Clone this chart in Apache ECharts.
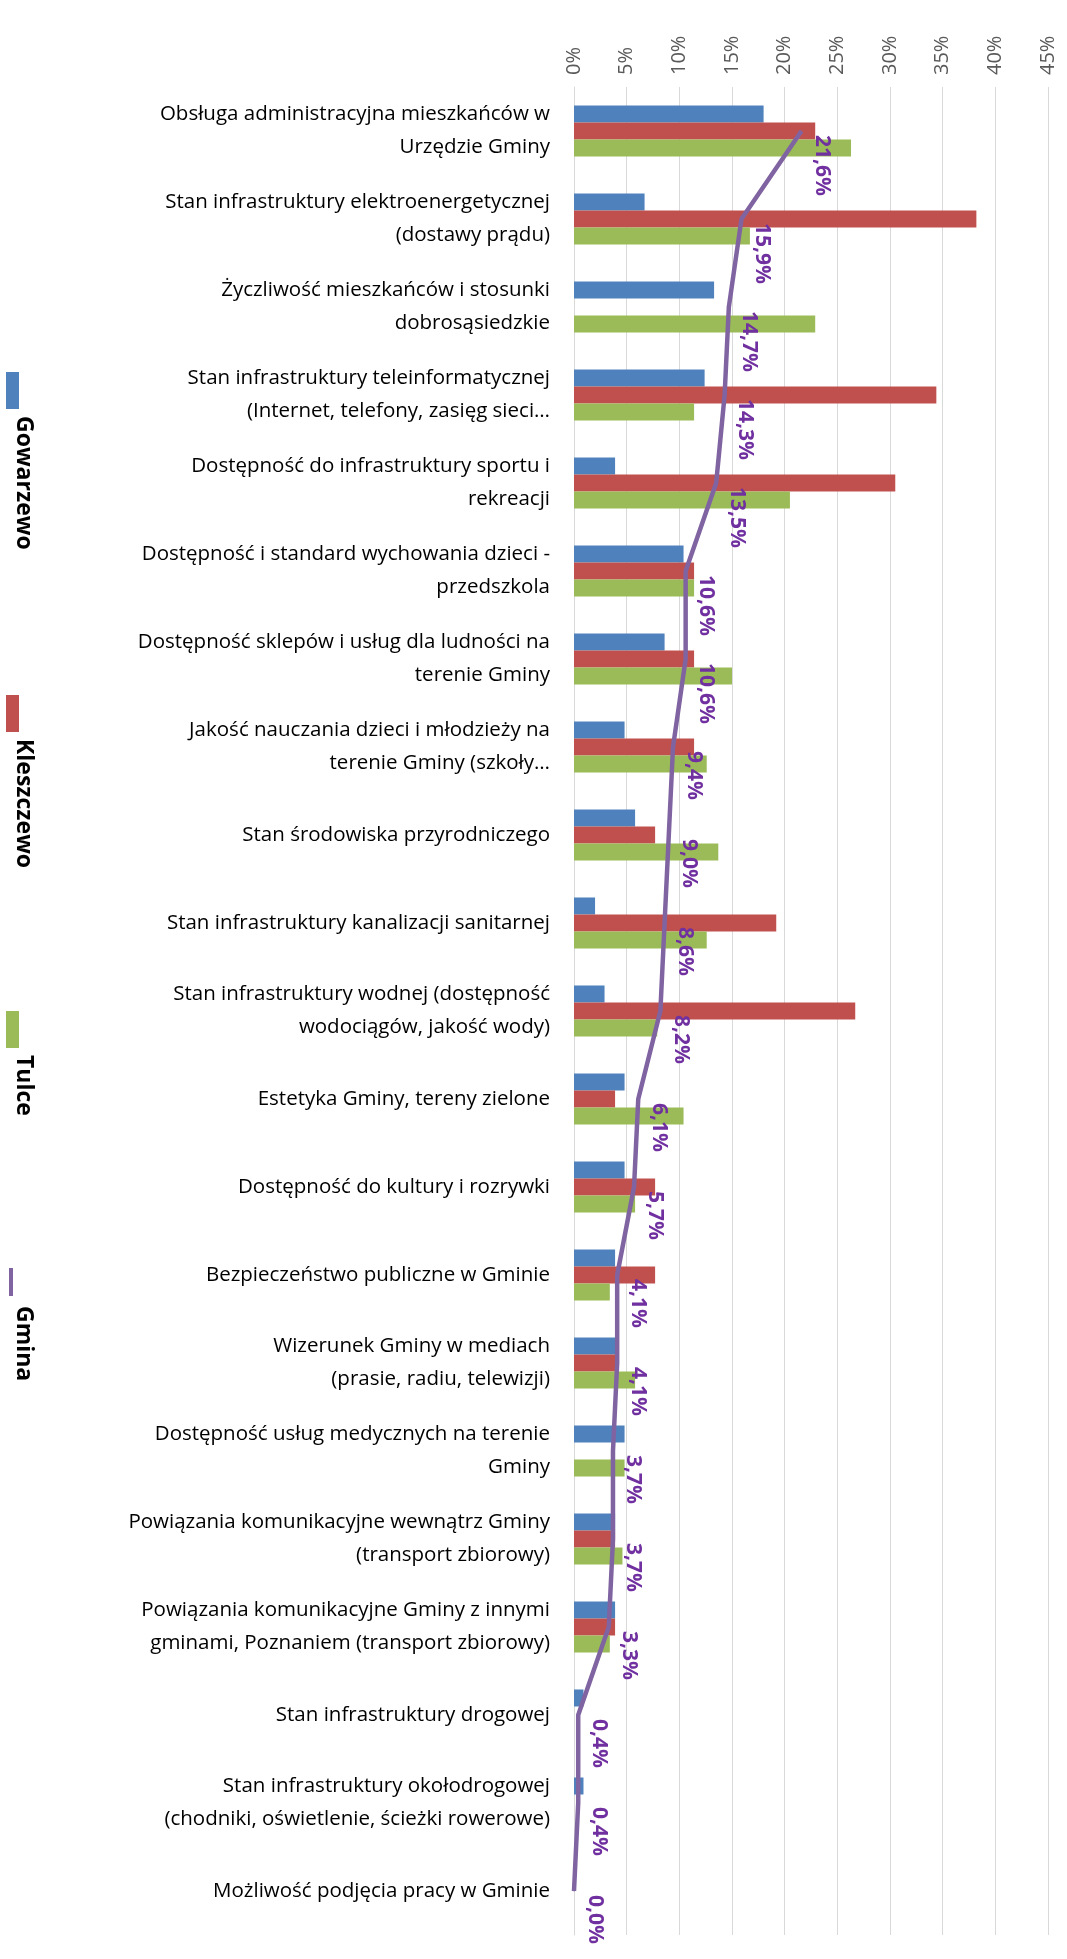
<!DOCTYPE html>
<html>
<head>
<meta charset="utf-8">
<script src="https://cdn.jsdelivr.net/npm/echarts@6/dist/echarts.min.js"></script>
<style>html,body{margin:0;padding:0;background:#fff}#chart{width:1067px;height:1959px}</style>
</head>
<body>
<div id="chart"></div>
<script>
var categories = [
    'Obsługa administracyjna mieszkańców w\nUrzędzie Gminy',
    'Stan infrastruktury elektroenergetycznej\n(dostawy prądu)',
    'Życzliwość mieszkańców i stosunki\ndobrosąsiedzkie',
    'Stan infrastruktury teleinformatycznej\n(Internet, telefony, zasięg sieci…',
    'Dostępność do infrastruktury sportu i\nrekreacji',
    'Dostępność i standard wychowania dzieci -\nprzedszkola',
    'Dostępność sklepów i usług dla ludności na\nterenie Gminy',
    'Jakość nauczania dzieci i młodzieży na\nterenie Gminy (szkoły…',
    'Stan środowiska przyrodniczego',
    'Stan infrastruktury kanalizacji sanitarnej',
    'Stan infrastruktury wodnej (dostępność\nwodociągów, jakość wody)',
    'Estetyka Gminy, tereny zielone',
    'Dostępność do kultury i rozrywki',
    'Bezpieczeństwo publiczne w Gminie',
    'Wizerunek Gminy w mediach\n(prasie, radiu, telewizji)',
    'Dostępność usług medycznych na terenie\nGminy',
    'Powiązania komunikacyjne wewnątrz Gminy\n(transport zbiorowy)',
    'Powiązania komunikacyjne Gminy z innymi\ngminami, Poznaniem (transport zbiorowy)',
    'Stan infrastruktury drogowej',
    'Stan infrastruktury okołodrogowej\n(chodniki, oświetlenie, ścieżki rowerowe)',
    'Możliwość podjęcia pracy w Gminie'
];
var gowarzewo = [18.0, 6.7, 13.3, 12.4, 3.9, 10.4, 8.6, 4.8, 5.8, 2.0, 2.9, 4.8, 4.8, 3.9, 3.9, 4.8, 3.9, 3.9, 0.9, 0.9, 0];
var kleszczewo = [22.9, 38.2, 0, 34.4, 30.5, 11.4, 11.4, 11.4, 7.7, 19.2, 26.7, 3.9, 7.7, 7.7, 3.9, 0, 3.9, 3.9, 0, 0, 0];
var tulce = [26.3, 16.7, 22.9, 11.4, 20.5, 11.4, 15.0, 12.6, 13.7, 12.6, 7.9, 10.4, 5.8, 3.4, 5.8, 4.8, 4.6, 3.4, 0, 0, 0];
var gmina = [21.6, 15.9, 14.7, 14.3, 13.5, 10.6, 10.6, 9.4, 9.0, 8.6, 8.2, 6.1, 5.7, 4.1, 4.1, 3.7, 3.7, 3.3, 0.4, 0.4, 0.0];

var font = '"Open Sans", "Liberation Sans", sans-serif';
var chart = echarts.init(document.getElementById('chart'));

function legendItem(y, color, name, isLine) {
    var mark = isLine
        ? { type: 'rect', shape: { x: 9, y: y + 6, width: 4, height: 28 }, style: { fill: color } }
        : { type: 'rect', shape: { x: 6, y: y, width: 13, height: 37 }, style: { fill: color } };
    return [mark, {
        type: 'text', x: 24, y: y + 44, rotation: -Math.PI / 2,
        style: { text: name, fill: '#000', font: 'bold 23px ' + font, align: 'left', verticalAlign: 'middle' }
    }];
}

var option = {
    animation: false,
    grid: { left: 574, right: 19, top: 87, bottom: 24 },
    xAxis: {
        type: 'value', position: 'top', min: 0, max: 45, interval: 5,
        axisLine: { show: false }, axisTick: { show: false },
        splitLine: { lineStyle: { color: '#d9d9d9' } },
        axisLabel: { rotate: -90, color: '#595959', fontSize: 20, fontFamily: font, margin: 12,
            formatter: function (v) { return v + '%'; } }
    },
    yAxis: {
        type: 'category', data: categories, inverse: true,
        axisLine: { lineStyle: { color: '#d9d9d9' } }, axisTick: { show: false },
        axisLabel: { color: '#000', fontSize: 20.5, fontFamily: font, lineHeight: 33, margin: 24, align: 'right' }
    },
    graphic: [].concat(
        legendItem(372, '#4f81bd', 'Gowarzewo'),
        legendItem(695, '#c0504d', 'Kleszczewo'),
        legendItem(1011, '#9bbb59', 'Tulce'),
        legendItem(1262, '#8064a2', 'Gmina', true)
    ),
    series: [
        { name: 'Gowarzewo', type: 'bar', data: gowarzewo, itemStyle: { color: '#4f81bd' }, barGap: '0%', barCategoryGap: '42%' },
        { name: 'Kleszczewo', type: 'bar', data: kleszczewo, itemStyle: { color: '#c0504d' } },
        { name: 'Tulce', type: 'bar', data: tulce, itemStyle: { color: '#9bbb59' } },
        {
            name: 'Gmina', type: 'line', data: gmina, symbol: 'circle', symbolSize: 1, showSymbol: true, z: 5,
            itemStyle: { color: '#8064a2' },
            lineStyle: { color: '#8064a2', width: 4.5 },
            label: {
                show: true, rotate: -90, position: 'right', distance: 6, offset: [4, -14],
                color: '#7030a0', fontWeight: 'bold', fontSize: 21, fontFamily: font,
                formatter: function (p) { return p.value.toFixed(1).replace('.', ',') + '%'; }
            }
        }
    ]
};
chart.setOption(option);
</script>
</body>
</html>
